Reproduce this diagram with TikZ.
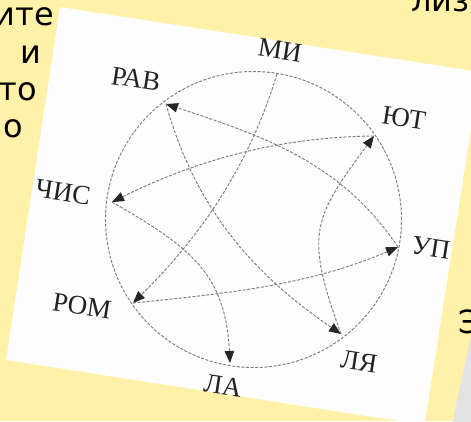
\documentclass[tikz,border=0pt]{standalone}
\usepackage{fontspec}
\newfontfamily\labfont{Liberation Serif}
\newfontfamily\bgfont{DejaVu Sans}
\usetikzlibrary{arrows.meta}
\definecolor{bgyellow}{HTML}{FFF2A8}
\definecolor{shadowgray}{HTML}{E3E3E3}
\definecolor{linegray}{HTML}{7C7C7C}
\definecolor{tipdark}{HTML}{262626}
\definecolor{labelc}{HTML}{222222}
\definecolor{photowhite}{HTML}{FDFDFD}
\tikzset{
  bgtext/.style={font=\bgfont\fontsize{32}{38}\selectfont, anchor=base west, inner sep=0pt, text=black},
  lbl/.style={font=\labfont\fontsize{27}{30}\selectfont, text=labelc, rotate=-8.8, inner sep=0pt},
  link/.style={draw=linegray, line width=0.95pt, dash pattern=on 3pt off 1.6pt,
    -{Triangle[length=12pt,width=9.5pt,fill=tipdark,color=tipdark]}},
  ring/.style={draw=linegray, line width=0.95pt, dash pattern=on 3pt off 1.6pt},
}
\begin{document}
\begin{tikzpicture}[x=1pt,y=-1pt]
\useasboundingbox (0,0) rectangle (471,421);
\clip (0,0) rectangle (471,421);
\fill[bgyellow] (0,0) rectangle (471,421);
% background text fragments
\node[bgtext] (bg1) at (-5.6,25) {ите};
\node[bgtext] (bg2) at (20.5,63) {и};
\node[bgtext] (bg3) at (-1.4,100) {то};
\node[bgtext] (bg4) at (3.2,137) {о};
\node[bgtext] (bg5) at (411,11) {лиз};
\node[bgtext] (bg6) at (458,333) {Э};
% gray shadow
\fill[shadowgray] (471.5,333) -- (452,424) -- (472,424) -- cycle;
% photo
\fill[photowhite] (60,7) -- (480,72) -- (424.5,425) -- (6,360) -- cycle;
% ring
\draw[ring] (253.5,219.5) circle[radius=148pt];
% points
\coordinate (mi) at (277,74);
\coordinate (rav) at (166,104);
\coordinate (yut) at (374,136);
\coordinate (up) at (398,247);
\coordinate (lya) at (341,334);
\coordinate (la) at (230,363);
\coordinate (rom) at (133,303);
\coordinate (chis) at (112,202);
% labels
\node[lbl] (lmi) at (280,50) {МИ};
\node[lbl] (lrav) at (136,79) {РАВ};
\node[lbl] (lyut) at (404,118) {ЮТ};
\node[lbl] (lup) at (431,248) {УП};
\node[lbl] (llya) at (359,362) {ЛЯ};
\node[lbl] (lla) at (223,386) {ЛА};
\node[lbl] (lrom) at (82,306) {РОМ};
\node[lbl] (lchis) at (63,192) {ЧИС};
% connectors
\draw[link] (mi) .. controls (249,166) and (201,236) .. (rom);
\draw[link] (rom) .. controls (227.5,293.5) and (310,285) .. (up);
\draw[link] (up) .. controls (341,162) and (263,136) .. (rav);
\draw[link] (rav) .. controls (195,208) and (253,274) .. (lya);
\draw[link] (lya) .. controls (305.4,235.2) and (311.3,220.2) .. (yut);
\draw[link] (yut) .. controls (279,137) and (197,160) .. (chis);
\draw[link] (chis) .. controls (190,247) and (225.5,273) .. (la);
\end{tikzpicture}
\end{document}
